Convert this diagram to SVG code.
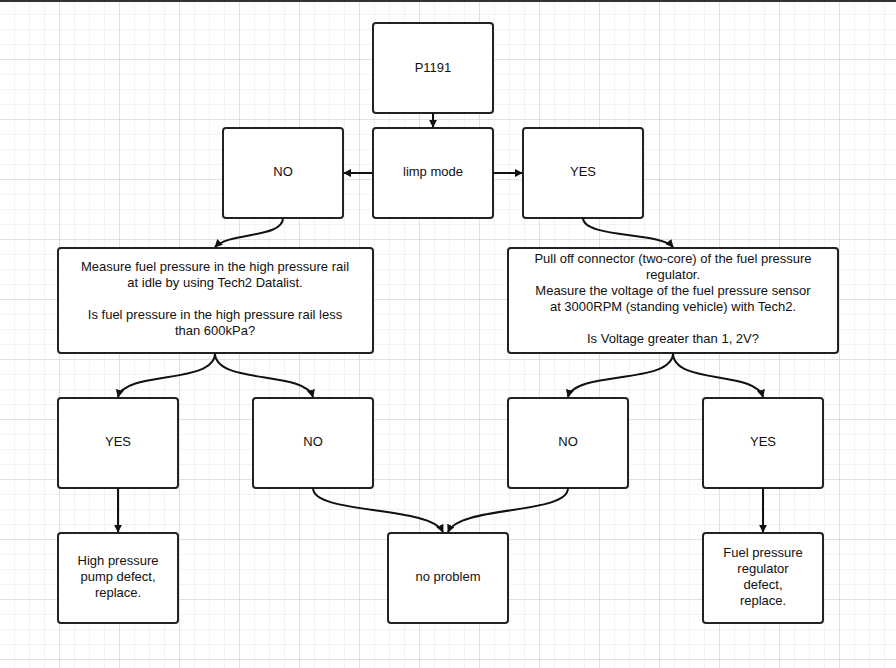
<svg xmlns="http://www.w3.org/2000/svg" width="896" height="668" viewBox="0 0 896 668">
<defs>
<pattern id="g" width="15" height="15" patternUnits="userSpaceOnUse"><path d="M15 0V15H0" fill="none" stroke="#e6e6e6" stroke-width="1"/></pattern>
<pattern id="G" width="60" height="60" patternUnits="userSpaceOnUse"><rect width="60" height="60" fill="url(#g)"/><path d="M60 0V60H0" fill="none" stroke="#d0d0d0" stroke-width="1"/></pattern>
<marker id="a" viewBox="0 0 10 10" refX="9" refY="5" markerWidth="4" markerHeight="4" orient="auto"><path d="M0 0L10 5L0 10z" fill="#111"/></marker>
</defs>
<style>
rect.n{fill:#fff;stroke:#222;stroke-width:2}
text{font-family:"Liberation Sans",Arial,sans-serif;font-size:13px;fill:#111;text-anchor:middle}
.c path{fill:none;stroke:#111;stroke-width:2;marker-end:url(#a)}
</style>
<rect width="896" height="668" fill="#fff"/>
<rect width="896" height="668" fill="url(#G)"/>
<rect width="896" height="2" fill="#333"/>
<g id="p1191"><rect class="n" x="373" y="23" width="120" height="90" rx="3"/><text x="433" y="72">P1191</text></g>
<g id="limp"><rect class="n" x="373" y="128" width="120" height="90" rx="3"/><text x="433" y="176">limp mode</text></g>
<g id="no1"><rect class="n" x="223" y="128" width="120" height="90" rx="3"/><text x="283" y="176">NO</text></g>
<g id="yes1"><rect class="n" x="523" y="128" width="120" height="90" rx="3"/><text x="583" y="176">YES</text></g>
<g id="left"><rect class="n" x="58" y="248" width="315" height="105" rx="3"/>
<text x="215" y="271">Measure fuel pressure in the high pressure rail</text>
<text x="215" y="287">at idle by using Tech2 Datalist.</text>
<text x="215" y="319">Is fuel pressure in the high pressure rail less</text>
<text x="215" y="335">than 600kPa?</text></g>
<g id="right"><rect class="n" x="508" y="248" width="330" height="105" rx="3"/>
<text x="673" y="263">Pull off connector (two-core) of the fuel pressure</text>
<text x="673" y="279">regulator.</text>
<text x="673" y="295">Measure the voltage of the fuel pressure sensor</text>
<text x="673" y="311">at 3000RPM (standing vehicle) with Tech2.</text>
<text x="673" y="343">Is Voltage greater than 1, 2V?</text></g>
<g id="yes2"><rect class="n" x="58" y="398" width="120" height="90" rx="3"/><text x="118" y="446">YES</text></g>
<g id="no2"><rect class="n" x="253" y="398" width="120" height="90" rx="3"/><text x="313" y="446">NO</text></g>
<g id="no3"><rect class="n" x="508" y="398" width="120" height="90" rx="3"/><text x="568" y="446">NO</text></g>
<g id="yes3"><rect class="n" x="703" y="398" width="120" height="90" rx="3"/><text x="763" y="446">YES</text></g>
<g id="hp"><rect class="n" x="58" y="533" width="120" height="90" rx="3"/><text x="118" y="565">High pressure</text><text x="118" y="581">pump defect,</text><text x="118" y="597">replace.</text></g>
<g id="np"><rect class="n" x="388" y="533" width="120" height="90" rx="3"/><text x="448" y="581">no problem</text></g>
<g id="fpr"><rect class="n" x="703" y="533" width="120" height="90" rx="3"/><text x="763" y="557">Fuel pressure</text><text x="763" y="573">regulator</text><text x="763" y="589">defect,</text><text x="763" y="605">replace.</text></g>
<g class="c">
<path d="M433 113V127"/>
<path d="M373 173H344"/>
<path d="M493 173H522"/>
<path d="M283 218C283 238 230 232 215 247"/>
<path d="M583 218C583 238 660 232 673 247"/>
<path d="M215 353C215 385 125 370 118 397"/>
<path d="M215 353C215 385 305 370 313 397"/>
<path d="M673 353C673 385 575 370 568 397"/>
<path d="M673 353C673 385 755 370 763 397"/>
<path d="M118 488V532"/>
<path d="M763 488V532"/>
<path d="M313 488C313 515 430 505 443 532"/>
<path d="M568 488C568 515 460 505 448 532"/>
</g>
</svg>
